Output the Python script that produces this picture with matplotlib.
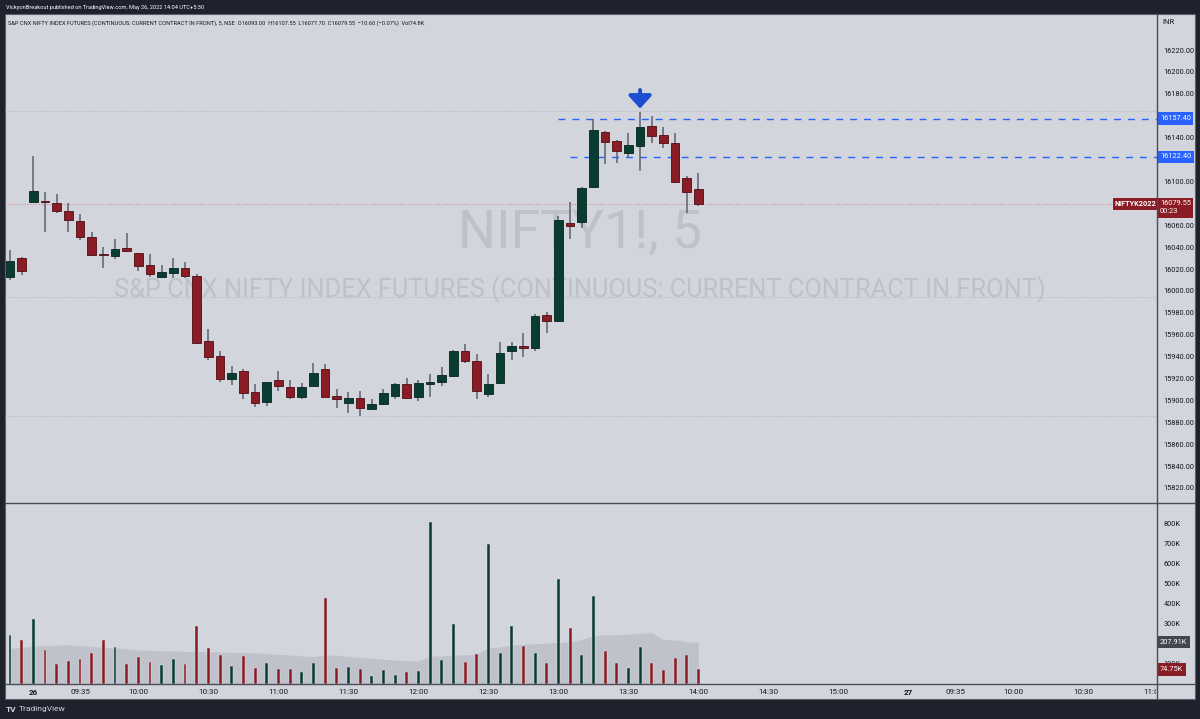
import matplotlib
matplotlib.use("Agg")
import matplotlib.pyplot as plt
import matplotlib.transforms as mtransforms
from matplotlib.lines import Line2D
from matplotlib.patches import Rectangle

W, H = 1200, 719
plt.rcParams['font.family'] = ['Roboto', 'DejaVu Sans']

# NIFTY1! 5-minute bars, 25 May 15:20 -> 26 May 14:00
opens = [16012.4, 16030.0, 16081.5, 16081.5, 16080.0, 16073.0, 16064.0, 16049.5, 16033.5, 16032.0,
         16039.5, 16034.5, 16023.5, 16013.0, 16016.5, 16020.5, 16014.0, 15954.5, 15940.5, 15920.0,
         15927.0, 15907.4, 15898.3, 15918.6, 15912.5, 15903.4, 15913.2, 15928.4, 15904.3, 15898.0,
         15902.0, 15892.2, 15896.4, 15904.3, 15915.0, 15903.4, 15915.3, 15917.0, 15922.6, 15945.0,
         15936.0, 15905.6, 15915.6, 15945.0, 15950.0, 15948.0, 15978.0, 15972.8, 16062.3, 16062.7,
         16094.6, 16145.4, 16136.9, 16126.2, 16132.3, 16150.6, 16142.4, 16135.3, 16103.4, 16093.0]
highs = [16037.0, 16031.0, 16123.0, 16090.6, 16088.5, 16080.0, 16070.0, 16054.0, 16040.0, 16047.0,
         16053.0, 16034.5, 16033.5, 16023.5, 16030.0, 16026.5, 16015.0, 15965.0, 15945.0, 15931.4,
         15928.5, 15915.0, 15917.0, 15927.0, 15918.6, 15915.6, 15934.4, 15933.2, 15910.4, 15907.4,
         15909.0, 15901.3, 15910.4, 15915.6, 15920.2, 15918.6, 15924.0, 15930.2, 15946.0, 15951.5,
         15942.4, 15924.0, 15953.0, 15953.6, 15961.3, 15978.6, 15980.5, 16068.4, 16081.5, 16095.2,
         16157.4, 16146.0, 16137.5, 16143.9, 16163.0, 16159.7, 16150.0, 16144.5, 16105.0, 16107.55]
lows = [16010.0, 16014.5, 16081.0, 16054.0, 16071.5, 16054.0, 16046.5, 16032.0, 16020.5, 16029.0,
        16036.0, 16018.0, 16013.0, 16011.5, 16011.5, 16011.5, 15952.0, 15937.0, 15917.0, 15914.0,
        15901.0, 15894.0, 15895.0, 15908.6, 15901.3, 15901.0, 15912.5, 15902.8, 15892.8, 15888.2,
        15885.8, 15891.2, 15896.0, 15901.0, 15901.0, 15899.7, 15903.4, 15913.2, 15921.7, 15934.0,
        15901.0, 15902.8, 15915.0, 15937.0, 15940.0, 15945.5, 15961.3, 15972.0, 16047.0, 16057.2,
        16094.0, 16115.6, 16116.5, 16122.4, 16109.8, 16135.3, 16130.2, 16099.0, 16071.4, 16077.7]
closes = [16027.6, 16018.5, 16091.5, 16080.8, 16073.0, 16064.5, 16049.0, 16033.0, 16033.0, 16038.3,
          16036.5, 16023.0, 16015.5, 16017.0, 16020.5, 16013.5, 15952.7, 15940.0, 15919.3, 15925.3,
          15907.0, 15898.0, 15916.5, 15913.2, 15903.4, 15912.0, 15925.3, 15903.4, 15901.0, 15902.5,
          15893.3, 15896.4, 15906.5, 15915.0, 15902.0, 15915.6, 15917.1, 15923.2, 15945.1, 15936.3,
          15908.6, 15915.0, 15943.0, 15950.0, 15947.6, 15977.4, 15972.8, 16064.7, 16059.5, 16093.7,
          16146.9, 16135.7, 16127.8, 16133.2, 16150.0, 16141.7, 16135.3, 16099.7, 16090.0, 16079.55]
volumes = [245, 220, 325, 170, 100, 115, 123, 153, 218, 187,
           100, 133, 110, 95, 123, 98, 290, 178, 145, 90,
           140, 82, 105, 73, 73, 62, 103, 430, 78, 87,
           73, 42, 70, 45, 58, 65, 812, 120, 300, 112,
           150, 700, 153, 292, 192, 153, 103, 523, 282, 145,
           440, 165, 105, 78, 187, 105, 70, 130, 145, 74.75]
vol_ma = [178, 182, 190, 192, 194, 196, 192, 188, 182, 180,
          176, 170, 168, 166, 165, 163, 163, 162, 160, 158,
          157, 156, 152, 148, 145, 140, 137, 146, 143, 138,
          132, 128, 124, 120, 117, 115, 140, 140, 144, 146,
          148, 180, 185, 195, 198, 202, 204, 208, 212, 222,
          242, 246, 247, 248, 253, 257, 222, 220, 212, 208]

tick_pos = [2, 6, 11, 17, 23, 29, 35, 41, 47, 53, 59, 65, 71, 77, 81, 86, 92, 98]
tick_labels = ["26", "09:35", "10:00", "10:30", "11:00", "11:30", "12:00", "12:30", "13:00",
               "13:30", "14:00", "14:30", "15:00", "27", "09:35", "10:00", "10:30", "11:00"]
# 16080 / 16120 / 16160 sit under the price labels, so they are left out
price_ticks = [15820, 15840, 15860, 15880, 15900, 15920, 15940, 15960, 15980, 16000,
               16020, 16040, 16060, 16100, 16140, 16180, 16200, 16220]
vol_ticks = [100, 300, 400, 500, 600, 700, 800]
level_hi, level_lo = 16157.40, 16122.40
faint_levels = [16164.3, 15994.4, 15885.8]
last_price = 16079.55

GREEN, RED = "#0a3d31", "#8a1c25"
PANEL, DARK, TXT = "#d2d5dc", "#1e222d", "#131722"
BLUE = "#2962ff"

fig = plt.figure(figsize=(W / 100, H / 100), dpi=100, facecolor=DARK)

def fx(x):
    return x / W

def fy(y):
    return 1 - y / H

fig.patches.append(Rectangle((fx(5), fy(699)), fx(1190), (699 - 14) / H, transform=fig.transFigure,
                             facecolor=PANEL, edgecolor="#5d606b", lw=0.8, zorder=-5))

ax = fig.add_axes([fx(5), fy(503), 1152 / W, (503 - 14) / H])
axv = fig.add_axes([fx(5), fy(684), 1152 / W, (684 - 503) / H], sharex=ax)
for a in (ax, axv):
    a.set_facecolor("none")
    for s in a.spines.values():
        s.set_visible(False)
    a.yaxis.tick_right()
    a.tick_params(axis="y", length=0, pad=4.5, labelsize=5.3, labelcolor=TXT)

idx = list(range(len(opens)))
ax.set_xlim(-0.43, 98.3)
ax.set_ylim(15806.3, 16252.9)
axv.set_ylim(0, 905)

# watermark
ax.text(0.499, 0.552, "NIFTY1!, 5", transform=ax.transAxes, ha="center", va="center",
        fontsize=38.5, color="#bec1c9", zorder=0)
ax.text(0.499, 0.436, "S&P CNX NIFTY INDEX FUTURES (CONTINUOUS: CURRENT CONTRACT IN FRONT)",
        transform=ax.transAxes, ha="center", va="center", fontsize=18.3, color="#bec1c9", zorder=0)

for lv in faint_levels:
    ax.axhline(lv, color="#b4b7bf", lw=0.7, ls=(0, (1, 1.5)), zorder=1)
ax.axhline(last_price, color="#c98d93", lw=0.8, ls=(0, (1, 1.5)), zorder=1)
ax.hlines(level_hi, 47, 98.3, color=BLUE, lw=1, linestyles=(0, (5, 5)), zorder=1)
ax.hlines(level_lo, 48, 98.3, color=BLUE, lw=1, linestyles=(0, (5, 5)), zorder=1)

# candles
cols = [GREEN if c >= o else RED for o, c in zip(opens, closes)]
edges = ["#04241c" if c >= o else "#4d0c13" for o, c in zip(opens, closes)]
ax.vlines(idx, lows, highs, color="#5f626c", lw=1.1, zorder=2)
bottoms = [min(o, c) for o, c in zip(opens, closes)]
heights = [max(abs(c - o), 0.9) for o, c in zip(opens, closes)]
ax.bar(idx, heights, bottom=bottoms, width=0.74, color=cols, edgecolor=edges, lw=0.6, zorder=3)

# arrow above the high bar
ax.annotate("", xy=(54, 16166.5), xytext=(54, 16183.5),
            arrowprops=dict(arrowstyle="-|>,head_width=0.5,head_length=0.55", color="#1c4fd0",
                            lw=2.8, mutation_scale=14, shrinkA=0, shrinkB=0), zorder=4)

# volume
axv.fill_between(idx, 0, vol_ma, color="#bfc2ca", lw=0, zorder=1)
axv.bar(idx, volumes, width=0.25, color=cols, edgecolor="#e6e8ed", lw=0.3, zorder=2)

ax.set_yticks(price_ticks)
ax.set_yticklabels(["%.2f" % p for p in price_ticks])
axv.set_yticks(vol_ticks)
axv.set_yticklabels(["%dK" % v for v in vol_ticks])
ax.tick_params(axis="x", bottom=False, labelbottom=False)
axv.set_xticks(tick_pos)
axv.set_xticklabels(tick_labels)
axv.tick_params(axis="x", length=0, pad=3.5, labelsize=5.8, labelcolor=TXT)
clip = mtransforms.TransformedBbox(mtransforms.Bbox([[0, 0], [1156 / W, 1]]), fig.transFigure)
for lab in axv.get_xticklabels():
    if lab.get_text() in ("26", "27"):
        lab.set_fontweight("bold")
    lab.set_clip_box(clip)
    lab.set_clip_on(True)

tr = mtransforms.blended_transform_factory(ax.transAxes, ax.transData)
trv = mtransforms.blended_transform_factory(axv.transAxes, axv.transData)
box_x = 1.0025

def axis_label(a, t, y, text, fc, va="center"):
    a.text(box_x, y, text, transform=t, ha="left", va=va, fontsize=5.3, color="white",
           linespacing=1.15, bbox=dict(boxstyle="square,pad=0.35", fc=fc, ec="none"),
           clip_on=False, zorder=5)

axis_label(ax, tr, level_hi, "%.2f" % level_hi, BLUE)
axis_label(ax, tr, level_lo, "%.2f" % level_lo, BLUE)
axis_label(ax, tr, last_price + 3.3, "%.2f\n00:23" % last_price, RED, va="top")
ax.text(0.9634, last_price, "NIFTYK2022", transform=tr, ha="left", va="center", fontsize=5.2,
        fontweight="bold", color="white", bbox=dict(boxstyle="square,pad=0.3", fc=RED, ec="none"),
        zorder=5)
axis_label(axv, trv, 210, "207.91K", "#434651")
axis_label(axv, trv, 72.5, "74.75K", RED)

# separators
for xs, ys in [((1157, 1157), (14, 699)), ((5, 1195), (503, 503)), ((5, 1195), (684, 684))]:
    fig.add_artist(Line2D([fx(v) for v in xs], [fy(v) for v in ys], transform=fig.transFigure,
                          color="#4a4d57", lw=1))

fig.text(fx(1162), fy(22), "INR", fontsize=5.5, color=TXT, va="center")
fig.text(fx(6), fy(7), "VickyonBreakout published on TradingView.com, May 26, 2022 14:04 UTC+5:30",
         fontsize=4.1, color="white", va="center")
fig.text(fx(8), fy(23), "S&P CNX NIFTY INDEX FUTURES (CONTINUOUS: CURRENT CONTRACT IN FRONT), 5, NSE  "
         "O16093.00  H16107.55  L16077.70  C16079.55  \u221210.60 (\u22120.07%)  Vol74.8K",
         fontsize=4.1, color=TXT, va="center")
fig.text(fx(6), fy(709), "TV", fontsize=6, fontweight="bold", color="#d1d4dc", va="center")
fig.text(fx(19), fy(709), "TradingView", fontsize=6, color="#d1d4dc", va="center")

fig.savefig("out.png", dpi=100, facecolor=DARK)
